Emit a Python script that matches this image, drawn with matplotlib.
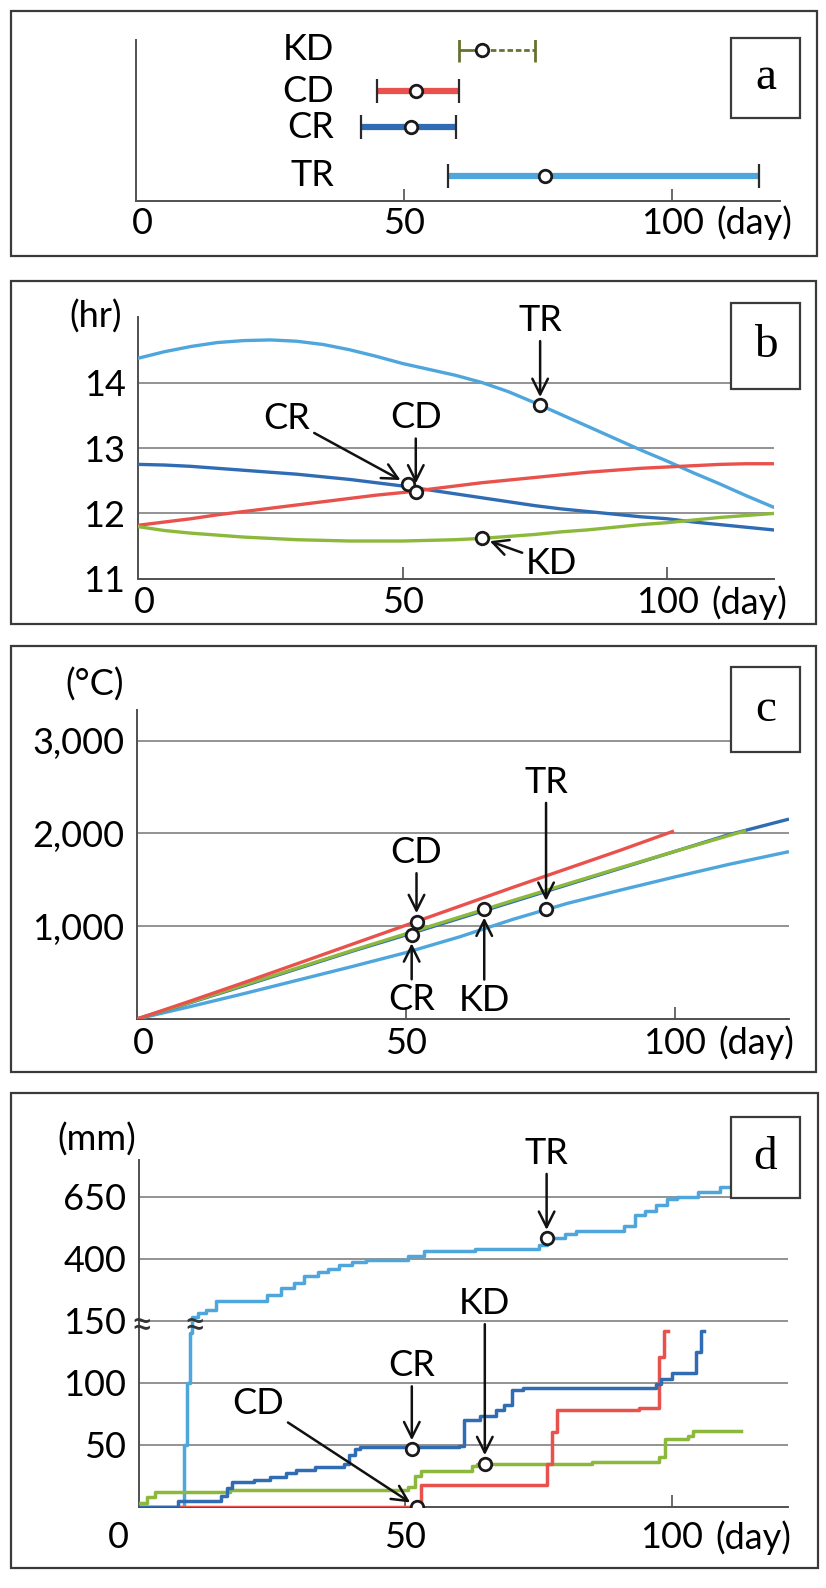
import numpy as np
import matplotlib
matplotlib.use('Agg')
import matplotlib.pyplot as plt
from matplotlib.patches import Rectangle
from matplotlib import font_manager


def pick(fams):
    for f in fams:
        try:
            font_manager.findfont(f, fallback_to_default=False)
            return f
        except Exception:
            pass
    return 'DejaVu Sans'


SANS = pick(['Lato', 'Open Sans', 'DejaVu Sans'])
SERIF = pick(['Liberation Serif', 'DejaVu Serif'])
plt.rcParams['font.family'] = [SANS, 'DejaVu Sans']

# ---------------- data ----------------
groups = ['TR', 'CR', 'CD', 'KD']
colors = {'TR': '#4ea6dd', 'CR': '#2f6cb4', 'CD': '#e9524c', 'KD': '#8cb83c'}
a_color_kd = '#66722f'

# panel a: period (days)
a_low = [58.2, 42.0, 44.9, 60.3]
a_mid = [76.2, 51.3, 52.3, 64.6]
a_high = [116.2, 59.6, 60.3, 74.4]

# panel b: day length (hr)
b_days = [0, 5, 10, 15, 20, 25, 30, 35, 40, 45, 50, 55, 60, 65, 70, 75, 80, 85, 90, 95, 100,
          105, 110, 115, 120]
b_TR = [14.37, 14.47, 14.55, 14.61, 14.64, 14.65, 14.63, 14.58, 14.50, 14.40, 14.29, 14.20,
        14.11, 14.00, 13.86, 13.69, 13.51, 13.33, 13.15, 12.97, 12.80, 12.62, 12.45, 12.27, 12.10]
b_CR = [12.75, 12.74, 12.72, 12.69, 12.66, 12.63, 12.60, 12.56, 12.52, 12.47, 12.42, 12.36,
        12.30, 12.24, 12.18, 12.12, 12.07, 12.03, 11.99, 11.95, 11.92, 11.87, 11.83, 11.79, 11.75]
b_CD = [11.82, 11.87, 11.92, 11.98, 12.03, 12.08, 12.13, 12.18, 12.23, 12.28, 12.32, 12.37,
        12.42, 12.47, 12.51, 12.55, 12.59, 12.63, 12.66, 12.69, 12.71, 12.73, 12.75, 12.76, 12.76]
b_KD = [11.80, 11.74, 11.70, 11.67, 11.64, 11.62, 11.60, 11.59, 11.58, 11.58, 11.58, 11.59,
        11.60, 11.62, 11.65, 11.68, 11.72, 11.75, 11.79, 11.83, 11.86, 11.90, 11.94, 11.97, 12.00]
b_mark_day = {'TR': 76, 'CR': 51, 'CD': 52.5, 'KD': 65}
b_mark_val = {'TR': 13.65, 'CR': 12.45, 'CD': 12.33, 'KD': 11.62}

# panel c: accumulated temperature (degC)
c_days_TR = [0, 10, 20, 30, 40, 50, 60, 70, 80, 90, 100, 110, 121]
c_TR = [0, 135, 275, 420, 565, 715, 885, 1075, 1245, 1390, 1530, 1665, 1800]
c_days_CR = [0, 10, 20, 30, 40, 50, 60, 70, 80, 90, 100, 110, 121]
c_CR = [0, 178, 360, 545, 730, 905, 1085, 1265, 1445, 1625, 1805, 1985, 2150]
c_days_CD = [0, 10, 20, 30, 40, 50, 60, 70, 80, 90, 99.6]
c_CD = [0, 195, 395, 600, 805, 1010, 1215, 1420, 1620, 1820, 2020]
c_days_KD = [0, 10, 20, 30, 40, 50, 60, 70, 80, 90, 100, 110, 113]
c_KD = [0, 182, 368, 553, 738, 918, 1098, 1278, 1455, 1632, 1805, 1975, 2025]
c_mark_day = {'TR': 76.1, 'CR': 51.1, 'CD': 52.0, 'KD': 64.6}
c_mark_val = {'TR': 1183, 'CR': 906, 'CD': 1050, 'KD': 1183}

# panel d: accumulated precipitation (mm), step series
d_days_TR = [0, 8.5, 9.0, 9.5, 10.0, 11.0, 12.5, 14.4, 24.0, 26.6, 29.0, 31.0, 33.5, 35.5, 37.6, 40.0,
             42.6, 50.5, 53.5, 63.0, 75.0, 76.5, 80.0, 82.0, 91.0, 93.0, 95.0, 97.0, 99.0, 101.0,
             105.0, 109.0, 113.0, 118.0]
d_TR = [0, 50, 100, 140, 165, 180, 195, 230, 255, 280, 300, 330, 345, 360, 375, 385,
        395, 410, 432, 440, 455, 482, 500, 510, 530, 575, 590, 615, 640, 650,
        670, 688, 695, 700]
d_days_CR = [0, 7.4, 15.4, 16.5, 17.5, 21.5, 24.6, 27.5, 29.5, 33.0, 38.5, 39.5, 40.5, 41.5, 60.0,
             61.0, 64.0, 67.0, 68.5, 70.0, 72.0, 97.0, 98.0, 100.0, 104.5, 105.5, 106.0]
d_CR = [0, 5, 9, 15, 20, 22, 24, 27, 30, 32, 35, 42, 47, 48, 49,
        70, 73, 78, 82, 94, 96, 99, 103, 108, 125, 142, 142]
d_days_CD = [0, 53.0, 76.5, 77.5, 78.5, 93.8, 97.5, 98.5, 99.2]
d_CD = [0, 18, 35, 60, 78, 80, 121, 142, 142]
d_days_KD = [0, 1.5, 3.0, 17.0, 50.5, 51.8, 53.0, 62.5, 63.5, 85.0, 97.5, 98.8, 103.0, 104.0, 113.0]
d_KD = [3, 8, 12, 14, 16, 25, 29, 33, 35, 36, 40, 55, 57, 61, 61]
d_mark_day = {'TR': 76.5, 'CR': 51.2, 'CD': 52.2, 'KD': 64.9}
d_mark_val = {'TR': 482, 'CR': 47, 'CD': 0, 'KD': 35}

# ---------------- layout helpers ----------------
W, H = 826, 1588
fig = plt.figure(figsize=(W / 100, H / 100), dpi=100)
FS = 26
GRID = '#8a8a8a'
AX = '#505050'


def px_axes(x0, y0, x1, y1):
    ax = fig.add_axes([x0 / W, 1 - y1 / H, (x1 - x0) / W, (y1 - y0) / H])
    ax.set_facecolor('none')
    return ax


def frame(x0, y0, x1, y1, lw=1.6, fc=None, z=1):
    r = Rectangle((x0 / W, 1 - y1 / H), (x1 - x0) / W, (y1 - y0) / H,
                  transform=fig.transFigure, fill=fc is not None,
                  facecolor=fc if fc is not None else 'none',
                  edgecolor='#3a3a3a', lw=lw, zorder=z)
    fig.add_artist(r)


def letter_box(x0, y0, x1, y1, s):
    frame(x0, y0, x1, y1, lw=1.6, fc='white', z=10)
    fig.text((x0 + x1) / 2 / W, 1 - (y0 + y1) / 2 / H, s, family=[SERIF, 'DejaVu Serif'],
             fontsize=34, ha='center', va='center', zorder=11)


def style(ax, xmax, ylim, yticks=None, ylabels=None, grid=None):
    ax.set_xlim(0, xmax)
    ax.set_ylim(*ylim)
    for s in ['top', 'right']:
        ax.spines[s].set_visible(False)
    for s in ['left', 'bottom']:
        ax.spines[s].set_color(AX)
        ax.spines[s].set_linewidth(1.4)
    ax.set_xticks([50, 100])
    ax.tick_params(axis='x', direction='in', length=9, width=1.2, color=AX, labelbottom=False)
    if yticks is None:
        ax.set_yticks([])
    else:
        ax.set_yticks(yticks)
        ax.set_yticklabels(ylabels)
    ax.tick_params(axis='y', length=0, labelsize=FS, pad=9)
    if grid is not None:
        for g in grid:
            ax.axhline(g, color=GRID, lw=1.3, zorder=0.5)


def xlabels(ax, dy=22, zero_dx=6):
    kw = dict(xycoords=('data', 'axes fraction'), textcoords='offset pixels', fontsize=FS,
              va='center', annotation_clip=False)
    ax.annotate('0', xy=(0, 0), xytext=(zero_dx, -dy), ha='center', **kw)
    ax.annotate('50', xy=(50, 0), xytext=(0, -dy), ha='center', **kw)
    ax.annotate('100', xy=(100, 0), xytext=(0, -dy), ha='center', **kw)
    ax.annotate('(day)', xy=(100, 0), xytext=(44, -dy), ha='left', **kw)


def unit_label(ax, s, dy):
    ax.annotate(s, xy=(0, 1), xycoords='axes fraction', xytext=(-42, dy),
                textcoords='offset pixels', ha='center', va='center', fontsize=FS,
                annotation_clip=False)


ARROW = dict(arrowstyle='->', color='#111111', lw=1.8, shrinkA=1, shrinkB=6,
             mutation_scale=28)


def marker(ax, x, y):
    ax.plot([x], [y], 'o', ms=9, mfc='white', mec='#1a1a1a', mew=2.0, zorder=6)


def label_arrow(ax, name, x, y, dx, dy):
    ax.annotate(name, xy=(x, y), xytext=(dx, dy), textcoords='offset pixels',
                ha='center', va='center', fontsize=FS, arrowprops=ARROW, zorder=7,
                annotation_clip=False)


# ---------------- panel a ----------------
frame(11, 11, 817, 256)
axa = px_axes(136, 40, 780, 201)
style(axa, 120.1, (0, 161))
xlabels(axa, dy=22)
rows = {'TR': 25, 'CR': 74, 'CD': 110, 'KD': 151}
for i, g in enumerate(groups):
    y = rows[g]
    lo, mid, hi = a_low[i], a_mid[i], a_high[i]
    if g == 'KD':
        axa.plot([lo, mid], [y, y], color=a_color_kd, lw=2.0, solid_capstyle='butt')
        axa.plot([mid, hi], [y, y], color=a_color_kd, lw=2.0, ls=(0, (2, 1)))
        axa.plot([lo, hi], [y, y], ls='none', marker='|', ms=17, mew=2.0, color=a_color_kd)
    else:
        axa.plot([lo, hi], [y, y], color=colors[g], lw=4.5, solid_capstyle='butt')
        axa.plot([lo, hi], [y, y], ls='none', marker='|', ms=17, mew=1.6, color='#2a2a2a')
    marker(axa, mid, y)
    axa.text(37.0, y, g, ha='right', va='center', fontsize=FS)
letter_box(731, 38, 800, 118, 'a')

# ---------------- panel b ----------------
frame(11, 281, 816, 624)
axb = px_axes(138, 317, 774, 579)
style(axb, 120.2, (11, 15), [11, 12, 13, 14], ['11', '12', '13', '14'], grid=[12, 13, 14])
xlabels(axb, dy=24)
unit_label(axb, '(hr)', 0)
for g, vals in zip(groups, [b_TR, b_CR, b_CD, b_KD]):
    axb.plot(b_days, vals, color=colors[g], lw=2.4, zorder=3)
for g in groups:
    marker(axb, b_mark_day[g], b_mark_val[g])
b_off = {'TR': (0, 85), 'CR': (-121, 66), 'CD': (0, 74), 'KD': (70, -25)}
for g in groups:
    label_arrow(axb, g, b_mark_day[g], b_mark_val[g], *b_off[g])
letter_box(731, 303, 800, 389, 'b')

# ---------------- panel c ----------------
frame(11, 646, 816, 1072)
axc = px_axes(137, 710, 789, 1019)
style(axc, 121.3, (0, 3330), [1000, 2000, 3000], ['1,000', '2,000', '3,000'],
      grid=[1000, 2000, 3000])
xlabels(axc, dy=24)
unit_label(axc, '(\u00b0C)', 25)
for g, dd, vals in [('TR', c_days_TR, c_TR), ('CR', c_days_CR, c_CR),
                    ('KD', c_days_KD, c_KD), ('CD', c_days_CD, c_CD)]:
    axc.plot(dd, vals, color=colors[g], lw=2.4, zorder=3)
for g in groups:
    marker(axc, c_mark_day[g], c_mark_val[g])
c_off = {'TR': (0, 127), 'CR': (0, -65), 'CD': (0, 69), 'KD': (0, -91)}
for g in groups:
    label_arrow(axc, g, c_mark_day[g], c_mark_val[g], *c_off[g])
letter_box(731, 667, 800, 752, 'c')

# ---------------- panel d ----------------
BRK = 150.0
RATIO = 0.2


def fwd(y):
    y = np.asarray(y, dtype=float)
    return np.where(y <= BRK, y, BRK + (y - BRK) * RATIO)


def inv(u):
    u = np.asarray(u, dtype=float)
    return np.where(u <= BRK, u, BRK + (u - BRK) / RATIO)


frame(11, 1093, 818, 1568)
axd = px_axes(139, 1160, 788, 1507)
axd.set_yscale('function', functions=(fwd, inv))
style(axd, 121.8, (0, 797), [50, 100, 150, 400, 650], ['50', '100', '150', '400', '650'],
      grid=[50, 100, 150, 400, 650])
xlabels(axd, dy=31, zero_dx=-21)
unit_label(axd, '(mm)', 20)
for g, dd, vals in [('TR', d_days_TR, d_TR), ('KD', d_days_KD, d_KD),
                    ('CD', d_days_CD, d_CD), ('CR', d_days_CR, d_CR)]:
    axd.plot(dd, vals, color=colors[g], lw=2.5, drawstyle='steps-post', zorder=3)
# break marks
axd.annotate('\u2248', xy=(0, BRK), xytext=(3, -5), textcoords='offset pixels', ha='center',
             va='center', fontsize=28, color='#333333', zorder=8, annotation_clip=False)
axd.annotate('\u2248', xy=(10.4, BRK), xytext=(0, -5), textcoords='offset pixels', ha='center',
             va='center', fontsize=28, color='#333333', zorder=8, annotation_clip=False)
for g in groups:
    marker(axd, d_mark_day[g], d_mark_val[g])
d_off = {'TR': (0, 85), 'CR': (0, 83), 'CD': (-159, 104), 'KD': (0, 160)}
for g in groups:
    label_arrow(axd, g, d_mark_day[g], d_mark_val[g], *d_off[g])
letter_box(731, 1117, 800, 1198, 'd')

fig.savefig('out.png', dpi=100)
